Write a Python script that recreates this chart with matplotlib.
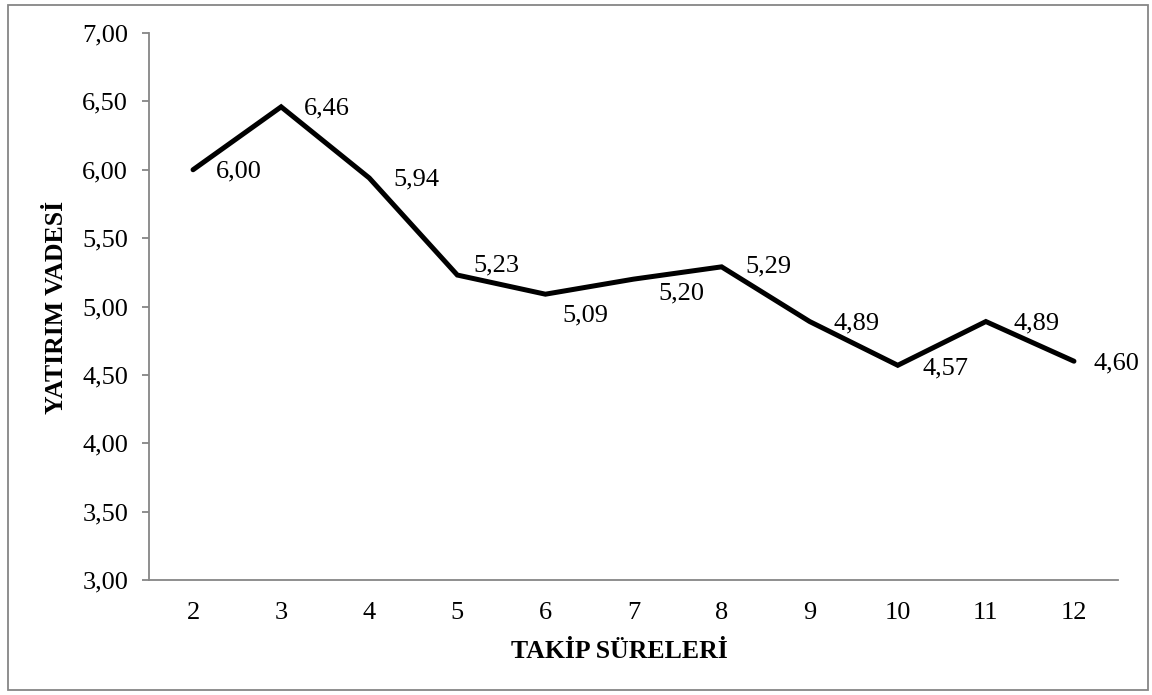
# Yatırım vadesi by takip süresi, line chart with data labels
import matplotlib
matplotlib.use("Agg")
import matplotlib.pyplot as plt
from matplotlib.patches import Rectangle

plt.rcParams['font.family'] = ['Liberation Serif', 'DejaVu Serif']

# data
takip_sureleri = [2, 3, 4, 5, 6, 7, 8, 9, 10, 11, 12]
yatirim_vadesi = [6.00, 6.46, 5.94, 5.23, 5.09, 5.20, 5.29, 4.89, 4.57, 4.89, 4.60]
y_ticks = [3.0, 3.5, 4.0, 4.5, 5.0, 5.5, 6.0, 6.5, 7.0]

# label offsets in pixels (dx to left edge, dy from point, up is positive)
label_offsets = [(23, -2), (23, -2), (24, -1), (16, 10), (17, -21),
                 (25, -14), (24, 0), (24, -2), (25, -3), (28, -2), (20, -2)]

def tr(v):
    return f"{v:.2f}".replace(".", ",")

fig = plt.figure(figsize=(11.52, 6.95), dpi=100)
ax = fig.add_axes([149/1152, 1 - 580/695, (1118 - 149)/1152, (580 - 33)/695])

ax.plot(takip_sureleri, yatirim_vadesi, color='black', linewidth=3.6,
        solid_joinstyle='miter', solid_capstyle='round')

for x, y, (dx, dy) in zip(takip_sureleri, yatirim_vadesi, label_offsets):
    ax.annotate(tr(y), (x, y), xytext=(dx, dy), textcoords='offset pixels',
                ha='left', va='center', fontsize=19, color='black')

ax.set_xlim(1.5, 12.5)
ax.set_ylim(3.0, 7.0)
ax.set_xticks(takip_sureleri)
ax.set_xticklabels([str(t) for t in takip_sureleri])
ax.set_yticks(y_ticks)
ax.set_yticklabels([tr(v) for v in y_ticks])

gray = '#868686'
for side in ['top', 'right']:
    ax.spines[side].set_visible(False)
for side in ['left', 'bottom']:
    ax.spines[side].set_color(gray)
    ax.spines[side].set_linewidth(1.3)

ax.tick_params(axis='y', length=5, width=1.3, color=gray, labelsize=19, pad=10)
ax.tick_params(axis='x', length=0, labelsize=19, pad=16)

fig.text(619/1152, 1 - 652/695, 'TAKİP SÜRELERİ', ha='center', va='center',
         fontsize=18.5, fontweight='bold')
fig.text(57/1152, 1 - 307/695, 'YATIRIM VADESİ', ha='center', va='center',
         rotation=90, fontsize=18.5, fontweight='bold')

# outer chart border
fig.patches.append(Rectangle((8/1152, 5/695), (1148 - 8)/1152, (690 - 5)/695,
                             transform=fig.transFigure, fill=False,
                             edgecolor=gray, linewidth=1.3))

fig.savefig('out.png', dpi=100)
